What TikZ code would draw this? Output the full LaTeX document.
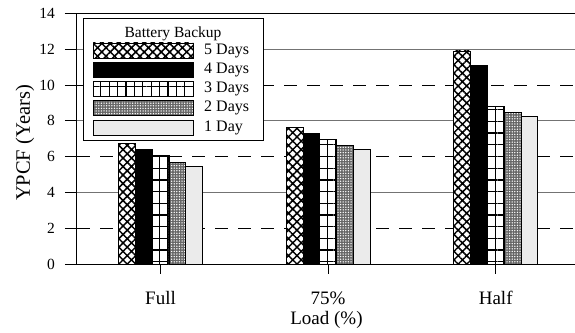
\documentclass[tikz,border=0pt]{standalone}
\usepackage{fontspec}
\setmainfont{Liberation Serif}
\usetikzlibrary{patterns.meta,positioning}

\tikzstyle{barBase} = [draw=black, line width=0.8pt]
\tikzstyle{fiveDays} = [
 barBase,
 preaction={fill=white},
 pattern={Hatch[angle=45,distance=6pt,line width=1.5pt]}
]
\tikzstyle{fourDays} = [
 barBase,
 fill=black
]
\tikzstyle{threeDays} = [
 barBase,
 preaction={fill=white},
 preaction={pattern={Lines[angle=0,distance=11.7pt,line width=1.3pt]}},
 pattern={Lines[angle=90,distance=8.4pt,line width=1.2pt]}
]
\tikzstyle{twoDays} = [
 barBase,
 preaction={fill=black!60},
 pattern={Dots[distance=2.6pt,radius=0.75pt]},
 pattern color=white
]
\tikzstyle{oneDay} = [
 barBase,
 preaction={fill=black!5},
 pattern={Dots[distance=2pt,radius=0.45pt]},
 pattern color=black!35
]
\tikzstyle{gridSolid} = [black!55, line width=0.9pt]
\tikzstyle{gridDashed} = [black, line width=0.8pt, dash pattern=on 13pt off 10pt]
\tikzstyle{tickLabel} = [anchor=east, inner sep=1pt, font=\fontsize{15.5}{17}\selectfont]
\tikzstyle{catLabel} = [inner sep=1pt, font=\fontsize{19}{21}\selectfont]
\tikzstyle{swatch} = [minimum width=100pt, minimum height=15pt, inner sep=0pt, outer sep=0pt]
\tikzstyle{legendText} = [inner sep=2pt, font=\fontsize{16}{18}\selectfont]

\begin{document}
\begin{tikzpicture}[x=1pt, y=1pt]
  \useasboundingbox (-77,-68) rectangle (498,264);
  \foreach \v in {4,8,12}
    \draw[gridSolid] (0,\v*17.9) -- (498,\v*17.9);
  \foreach \v in {2,6,10}
    \draw[gridDashed] (0,\v*17.9) -- (498,\v*17.9);
  \draw[line width=1pt] (-12,14*17.9) -- (498,14*17.9);
  \draw[line width=1pt] (0,14*17.9) -- (0,0) -- (498,0);
  \foreach \v in {0,2,...,14} {
    \draw[line width=0.9pt] (-12,\v*17.9) -- (0,\v*17.9);
    \node[tickLabel] (y\v) at (-21,\v*17.9) {\v};
  }
  \foreach \cx/\name/\txt/\va/\vb/\vc/\vd/\ve in {
    83.5/full/Full/6.75/6.4/6.05/5.65/5.45,
    251.1/threeQuarter/75\%/7.65/7.3/6.95/6.6/6.4,
    418.7/half/Half/11.9/11.1/8.8/8.45/8.25} {
    \draw[fiveDays] (\cx-42,0) rectangle (\cx-25.2,\va*17.9);
    \draw[fourDays] (\cx-25.2,0) rectangle (\cx-8.4,\vb*17.9);
    \draw[threeDays] (\cx-8.4,0) rectangle (\cx+8.4,\vc*17.9);
    \draw[twoDays] (\cx+8.4,0) rectangle (\cx+25.2,\vd*17.9);
    \draw[oneDay] (\cx+25.2,0) rectangle (\cx+42,\ve*17.9);
    \draw[line width=0.9pt] (\cx,0) -- (\cx,-10);
    \node[catLabel] (\name) at (\cx,-34) {\txt};
  }
  \node[catLabel] (xLabel) at (249.5,-56) {Load (\%)};
  \node[catLabel, font=\fontsize{20.5}{22}\selectfont, rotate=90] (yLabel) at (-52,121) {YPCF (Years)};

  \node[draw=black, line width=0.9pt, fill=white, minimum width=180pt,
    minimum height=122pt, inner sep=0pt] (legendBox) at (96,185) {};
  \node[legendText, font=\fontsize{15.5}{17}\selectfont] (legendTitle) at (96,230) {Battery Backup};
  \node[swatch, fiveDays] (sw5) at (66,213.5) {};
  \node[swatch, fourDays, below=4.3pt of sw5] (sw4) {};
  \node[swatch, threeDays, below=4.3pt of sw4] (sw3) {};
  \node[swatch, twoDays, below=4.3pt of sw3] (sw2) {};
  \node[swatch, oneDay, below=4.3pt of sw2] (sw1) {};
  \node[legendText, right=9pt of sw5] (lb5) {5 Days};
  \node[legendText, right=9pt of sw4] (lb4) {4 Days};
  \node[legendText, right=9pt of sw3] (lb3) {3 Days};
  \node[legendText, right=9pt of sw2] (lb2) {2 Days};
  \node[legendText, right=9pt of sw1] (lb1) {1 Day};
\end{tikzpicture}
\end{document}
